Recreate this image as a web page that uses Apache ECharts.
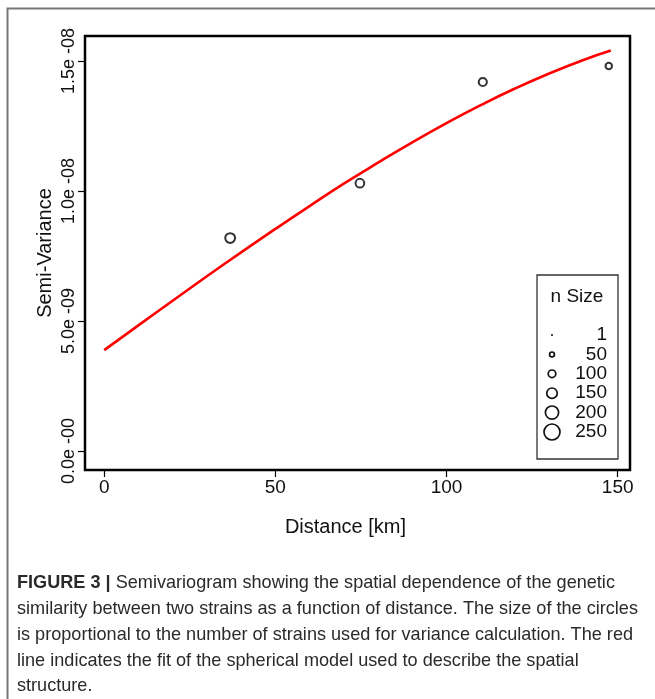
<!DOCTYPE html>
<html>
<head>
<meta charset="utf-8">
<script src="https://cdn.jsdelivr.net/npm/echarts@6/dist/echarts.min.js"></script>
<style>
  html, body { margin: 0; padding: 0; background: #fff; }
  #main { width: 655px; height: 699px; }
</style>
</head>
<body>
<div id="main"></div>
<script>
// observed semivariance per distance class
var distance = [36.8, 74.7, 110.6, 147.4];
var semiVar = [8.19e-9, 10.3e-9, 14.19e-9, 14.81e-9];
var nStrains = [140, 120, 110, 80];

// spherical model fit
var fitDist = [0, 10, 20, 30, 40, 50, 60, 70, 80, 90, 100, 110, 120, 130, 140, 148];
var fitVar = [3.88e-9, 4.83e-9, 5.78e-9, 6.72e-9, 7.64e-9, 8.54e-9, 9.42e-9, 10.28e-9,
              11.09e-9, 11.87e-9, 12.61e-9, 13.30e-9, 13.94e-9, 14.52e-9, 15.04e-9, 15.40e-9];

var xTicks = [0, 50, 100, 150];
var yTicks = [0, 5e-9, 1e-8, 1.5e-8];
var yTickLabels = ['0.0e -00', '5.0e -09', '1.0e -08', '1.5e -08'];
var legendSizes = [1, 50, 100, 150, 200, 250];

var captionLines = [
  'Semivariogram showing the spatial dependence of the genetic',
  'similarity between two strains as a function of distance. The size of the circles',
  'is proportional to the number of strains used for variance calculation. The red',
  'line indicates the fit of the spherical model used to describe the spatial',
  'structure.'
];

var font = 'Liberation Sans, Arial, sans-serif';
var capFont = '"Liberation Sans", Arial, sans-serif';

// circle diameter grows with number of strains
function circleSize(n) {
  return 2 + n * 0.056;
}

// caption is set in a narrow face: squeeze so the longest line fits 621px
var ctx = document.createElement('canvas').getContext('2d');
ctx.font = '19px ' + capFont;
var capScale = 621 / ctx.measureText(captionLines[1]).width;

var myChart = echarts.init(document.getElementById('main'));

var graphics = [];
// figure frame
graphics.push({
  type: 'polyline',
  shape: { points: [[7.5, 699], [7.5, 8.5], [655, 8.5]] },
  style: { stroke: '#777', lineWidth: 2, fill: null }
});

// legend box
var lgX = 537, lgY = 275, lgW = 81, lgH = 184;
graphics.push({
  type: 'rect',
  shape: { x: lgX, y: lgY, width: lgW, height: lgH },
  style: { stroke: '#333', lineWidth: 1.3, fill: '#fff' },
  z: 10
});
graphics.push({
  type: 'text', x: 577, y: 297, z: 11,
  style: { text: 'n Size', font: '19px ' + font, fill: '#111', align: 'center', verticalAlign: 'middle' }
});
legendSizes.forEach(function(n, i) {
  var y = 335 + i * 19.4;
  graphics.push({
    type: 'circle', z: 11,
    shape: { cx: 552, cy: y, r: circleSize(n) / 2 },
    style: n === 1 ? { fill: '#111' } : { stroke: '#111', lineWidth: 1.7, fill: null }
  });
  graphics.push({
    type: 'text', x: 607, y: y, z: 11,
    style: { text: String(n), font: '19px ' + font, fill: '#111', align: 'right', verticalAlign: 'middle' }
  });
});

// caption
captionLines.forEach(function(line, i) {
  var txt = i === 0 ? '{b|FIGURE 3 |} ' + line : line;
  graphics.push({
    type: 'text', x: 17, y: 583 + i * 25.8,
    scaleX: capScale,
    style: {
      text: txt,
      font: '19px ' + capFont,
      fill: '#2a2a2a',
      verticalAlign: 'middle',
      rich: { b: { fontWeight: 'bold', fontFamily: capFont, fontSize: 19, fill: '#2a2a2a' } }
    }
  });
});

var option = {
  animation: false,
  backgroundColor: '#fff',
  grid: {
    left: 85, top: 36, width: 545, height: 434,
    show: true, borderColor: '#000', borderWidth: 2.5, backgroundColor: 'transparent'
  },
  xAxis: {
    type: 'value',
    min: -5.6, max: 153.6,
    name: 'Distance [km]',
    nameLocation: 'middle',
    nameGap: 47,
    nameMoveOverlap: false,
    nameTextStyle: { fontFamily: font, fontSize: 20, color: '#111', padding: [0, 24, 0, 0] },
    splitLine: { show: false },
    axisLine: { show: false, onZero: false },
    axisTick: { show: true, length: 7, lineStyle: { color: '#000', width: 1.2 }, customValues: xTicks },
    axisLabel: { fontFamily: font, fontSize: 19, color: '#111', margin: 8, customValues: xTicks }
  },
  yAxis: {
    type: 'value',
    min: -0.73e-9, max: 15.96e-9,
    name: 'Semi-Variance',
    nameLocation: 'middle',
    nameGap: 30,
    nameMoveOverlap: false,
    nameTextStyle: { fontFamily: font, fontSize: 20, color: '#111' },
    splitLine: { show: false },
    axisLine: { show: false, onZero: false },
    axisTick: { show: true, length: 7, lineStyle: { color: '#000', width: 1.2 }, customValues: yTicks },
    axisLabel: {
      fontFamily: font, fontSize: 18, color: '#111', margin: 7, rotate: 90,
      customValues: yTicks,
      formatter: function(v) {
        for (var i = 0; i < yTicks.length; i++) {
          if (Math.abs(v - yTicks[i]) < 1e-12) return yTickLabels[i];
        }
        return '';
      }
    }
  },
  series: [
    {
      name: 'fit',
      type: 'line',
      data: fitDist.map(function(d, i) { return [d, fitVar[i]]; }),
      smooth: true,
      showSymbol: false,
      lineStyle: { color: '#ff0000', width: 2.6 },
      z: 2
    },
    {
      name: 'semivariance',
      type: 'scatter',
      data: distance.map(function(d, i) { return [d, semiVar[i], nStrains[i]]; }),
      symbol: 'circle',
      symbolSize: function(val) { return circleSize(val[2]); },
      itemStyle: { color: 'transparent', borderColor: '#000', borderWidth: 2 },
      z: 3
    }
  ],
  graphic: graphics
};

myChart.setOption(option);
</script>
</body>
</html>
